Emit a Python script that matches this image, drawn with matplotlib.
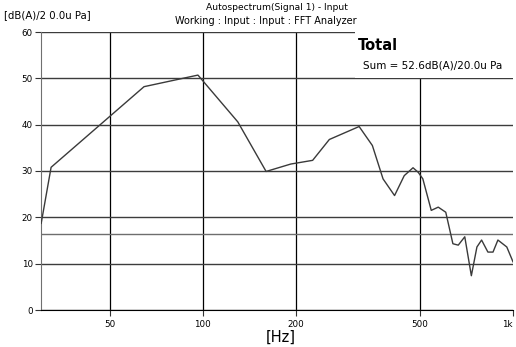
import matplotlib
matplotlib.use("Agg")
import matplotlib.pyplot as plt
from matplotlib.patches import Rectangle

freq_hz = [30.1, 32.4, 64.6, 96.4, 129.6, 159.9, 192, 225.9, 255.7, 319, 352, 381,
           415, 446, 476, 495, 512, 545, 574, 607, 640, 666, 699, 734, 765, 792,
           830, 862, 894, 955, 1000]
level_db = [18.7, 30.8, 48.2, 50.7, 40.6, 29.9, 31.5, 32.3, 36.8, 39.6, 35.5, 28.3,
            24.7, 29.0, 30.7, 29.7, 28.3, 21.5, 22.2, 21.1, 14.3, 14.0, 15.8, 7.4,
            13.6, 15.1, 12.5, 12.5, 15.1, 13.6, 10.4]
cursor_db = 16.3
xtick_vals = [50, 100, 200, 500, 1000]
xtick_labels = ["50", "100", "200", "500", "1k"]
ytick_vals = [0, 10, 20, 30, 40, 50, 60]

fig = plt.figure(figsize=(5.16, 3.47), dpi=100)
ax = fig.add_axes([41/516, 37/347, 472/516, 278/347])

ax.set_xscale("log")
ax.set_xlim(30.06, 1000)
ax.set_ylim(0, 60)

ax.plot(freq_hz, level_db, color="#3a3a3a", lw=1.0, zorder=4)
ax.axhline(cursor_db, color="#6e6e6e", lw=1.0, zorder=2)

ax.set_xticks(xtick_vals)
ax.set_xticklabels(xtick_labels)
ax.xaxis.set_minor_locator(matplotlib.ticker.NullLocator())
ax.set_yticks(ytick_vals)
ax.tick_params(axis="both", labelsize=6.3, length=4, width=0.8, color="#333333", pad=3)
ax.tick_params(axis="y", pad=2)
ax.get_xticklabels()[-1].set_horizontalalignment("right")

ax.grid(axis="x", color="black", lw=0.9, zorder=1)
ax.grid(axis="y", color="#3c3c3c", lw=1.0, zorder=1)
ax.get_xgridlines()[-1].set_visible(False)
ax.set_axisbelow(True)

for s in ["top", "right"]:
    ax.spines[s].set_visible(False)
ax.spines["left"].set_color("#707070")
ax.spines["bottom"].set_color("black")

# white info box covering the top-right of the grid
ax.add_patch(Rectangle(((355-41)/472, (310-78)/278), 1 - (355-41)/472, 0.2,
                       transform=ax.transAxes, facecolor="white", edgecolor="none",
                       zorder=3, clip_on=False))
fig.text(358/516, 1 - 46/347, "Total", fontsize=10.5, fontweight="bold",
         va="center", ha="left")
fig.text(363/516, 1 - 66/347, "Sum = 52.6dB(A)/20.0u Pa", fontsize=7.5,
         va="center", ha="left")

fig.text(4/516, 1 - 15/347, "[dB(A)/2 0.0u Pa]", fontsize=7.3, va="center", ha="left")
fig.text(277/516, 1 - 8/347, "Autospectrum(Signal 1) - Input", fontsize=6.6,
         va="center", ha="center")
fig.text(266/516, 1 - 21/347, "Working : Input : Input : FFT Analyzer", fontsize=7.0,
         va="center", ha="center")
fig.text(281/516, 1 - 337/347, "[Hz]", fontsize=10.5, va="center", ha="center")

fig.savefig("out.png", dpi=100)
